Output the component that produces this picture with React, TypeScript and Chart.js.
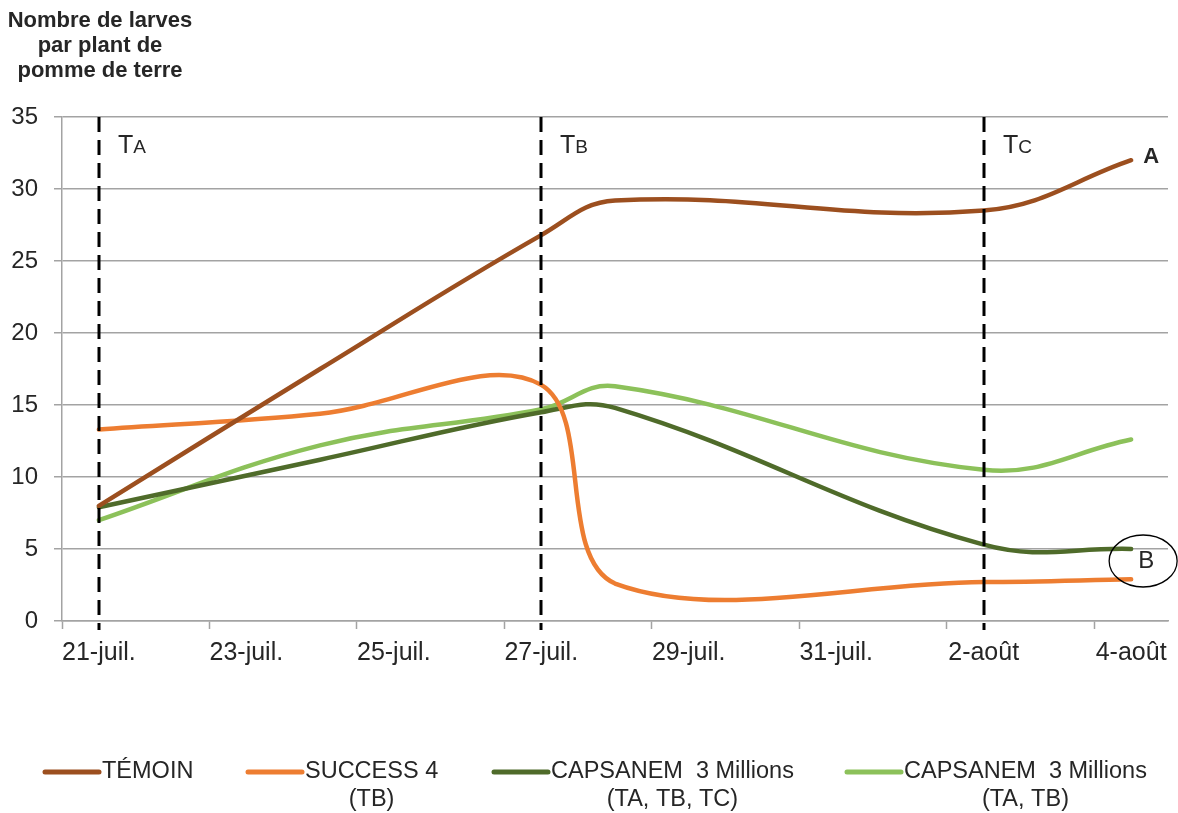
import React, { useEffect, useRef } from 'react';
import { Chart, registerables } from 'chart.js';

Chart.register(...registerables);

// ---- data ----
const dayLabels = [
  '21-juil.', '22-juil.', '23-juil.', '24-juil.', '25-juil.', '26-juil.', '27-juil.',
  '28-juil.', '29-juil.', '30-juil.', '31-juil.', '1-août', '2-août', '3-août', '4-août',
];
const sampleDays = [0, 3, 6, 7, 12, 14];
const temoin = [8.0, 17.5, 26.8, 29.2, 28.5, 32.0];
const success4 = [13.3, 14.4, 16.4, 2.6, 2.7, 2.9];
const capsanemABC = [7.9, 11.2, 14.5, 14.8, 5.3, 5.0];
const capsanemAB = [7.0, 12.2, 14.7, 16.3, 10.5, 12.6];

const seriesNames: string[][] = [
  ['TÉMOIN'],
  ['SUCCESS 4', '(TB)'],
  ['CAPSANEM  3 Millions', '(TA, TB, TC)'],
  ['CAPSANEM  3 Millions', '(TA, TB)'],
];
const seriesValues = [temoin, success4, capsanemABC, capsanemAB];
const seriesColors = ['#9C4F1F', '#ED7D31', '#4F6B2A', '#8CC15A'];
const seriesTension = [0.4, 0.36, 0.4, 0.4];

const treatmentDays = [0, 6, 12];
const treatmentLetters = ['A', 'B', 'C'];
const titleLines = ['Nombre de larves', 'par plant de', 'pomme de terre'];
const yMin = 0;
const yMax = 35;
const yStep = 5;

const FONT = '"Liberation Sans", Arial, sans-serif';
const GRID = '#A3A3A3';
const TEXT = '#262626';

const overlayPlugin = {
  id: 'overlay',
  afterDatasetsDraw(chart: any) {
    const { ctx, chartArea, scales } = chart;
    const x = scales.x;
    const y = scales.y;
    ctx.save();
    // treatment dashed lines + labels
    treatmentDays.forEach((d, i) => {
      const px = Math.round(x.getPixelForValue(d));
      ctx.strokeStyle = '#000';
      ctx.lineWidth = 3;
      ctx.setLineDash([15, 8]);
      ctx.beginPath();
      ctx.moveTo(px, chartArea.top);
      ctx.lineTo(px, chartArea.bottom + 9);
      ctx.stroke();
      ctx.setLineDash([]);
      ctx.fillStyle = TEXT;
      ctx.textAlign = 'left';
      ctx.textBaseline = 'alphabetic';
      ctx.font = `25px ${FONT}`;
      const lx = px + 19;
      const ly = chartArea.top + 36;
      ctx.fillText('T', lx, ly);
      const tw = ctx.measureText('T').width;
      ctx.font = `19px ${FONT}`;
      ctx.fillText(treatmentLetters[i], lx + tw, ly);
    });
    // "A" label
    const ax = x.getPixelForValue(sampleDays[sampleDays.length - 1]);
    const ay = y.getPixelForValue(temoin[temoin.length - 1]);
    ctx.font = `bold 22px ${FONT}`;
    ctx.fillStyle = TEXT;
    ctx.textAlign = 'left';
    ctx.textBaseline = 'middle';
    ctx.fillText('A', ax + 12, ay - 3);
    // "B" circled
    const bx = x.getPixelForValue(sampleDays[sampleDays.length - 1]);
    const by = y.getPixelForValue(capsanemABC[capsanemABC.length - 1]);
    ctx.strokeStyle = '#000';
    ctx.lineWidth = 1.3;
    ctx.beginPath();
    ctx.ellipse(bx + 12, by + 12, 34, 26, 0, 0, Math.PI * 2);
    ctx.stroke();
    ctx.font = `24px ${FONT}`;
    ctx.textAlign = 'center';
    ctx.fillText('B', bx + 15, by + 12);
    ctx.restore();
  },
  afterDraw(chart: any) {
    const { ctx } = chart;
    ctx.save();
    // title
    ctx.fillStyle = TEXT;
    ctx.font = `bold 22px ${FONT}`;
    ctx.textAlign = 'center';
    ctx.textBaseline = 'middle';
    titleLines.forEach((t, i) => ctx.fillText(t, 100, 21 + i * 25));
    // legend
    const starts = [43, 246, 492, 845];
    const lineLen = 56;
    const y1 = 772;
    const y2 = 800;
    seriesNames.forEach((lines, i) => {
      const sx = starts[i];
      ctx.strokeStyle = seriesColors[i];
      ctx.lineWidth = 5;
      ctx.lineCap = 'round';
      ctx.beginPath();
      ctx.moveTo(sx + 2, y1);
      ctx.lineTo(sx + lineLen, y1);
      ctx.stroke();
      ctx.font = `23.5px ${FONT}`;
      ctx.fillStyle = TEXT;
      ctx.textAlign = 'left';
      ctx.textBaseline = 'middle';
      const tx = sx + lineLen + 3;
      ctx.fillText(lines[0], tx, y1);
      const w = ctx.measureText(lines[0]).width;
      if (lines[1]) {
        ctx.textAlign = 'center';
        ctx.fillText(lines[1], tx + w / 2, y2);
      }
    });
    ctx.restore();
  },
};

export default function App() {
  const canvasRef = useRef<HTMLCanvasElement | null>(null);

  useEffect(() => {
    if (!canvasRef.current) return;
    const xTicks: number[] = [];
    for (let d = 0; d < dayLabels.length; d += 2) {
      xTicks.push(d - 0.5, d);
    }
    const chart = new Chart(canvasRef.current, {
      type: 'line',
      data: {
        datasets: seriesValues.map((vals, i) => ({
          label: seriesNames[i].join(' '),
          data: sampleDays.map((d, j) => ({ x: d, y: vals[j] })),
          borderColor: seriesColors[i],
          backgroundColor: seriesColors[i],
          borderWidth: 4.5,
          pointRadius: 0,
          tension: seriesTension[i],
          fill: false,
          borderCapStyle: 'round',
        })),
      },
      options: {
        animation: false,
        responsive: true,
        maintainAspectRatio: false,
        layout: { padding: { top: 117, right: 10, left: 0, bottom: 0 } },
        plugins: {
          legend: { display: false },
          tooltip: { enabled: false },
        },
        scales: {
          x: {
            type: 'linear',
            min: -0.5,
            max: dayLabels.length - 0.5,
            afterBuildTicks: (scale: any) => {
              scale.ticks = xTicks.map((v) => ({ value: v }));
            },
            afterFit: (scale: any) => {
              scale.height = 192;
            },
            ticks: {
              autoSkip: false,
              maxRotation: 0,
              minRotation: 0,
              padding: 9,
              color: TEXT,
              font: { family: FONT, size: 25 },
              callback: (v: any) => {
                const n = Number(v);
                return Number.isInteger(n) ? dayLabels[n] : '';
              },
            },
            grid: {
              drawOnChartArea: false,
              drawTicks: true,
              tickLength: 8,
              tickColor: (c: any) =>
                c.tick && !Number.isInteger(c.tick.value) ? GRID : 'rgba(0,0,0,0)',
              tickWidth: 1.5,
            },
            border: { display: true, color: GRID, width: 1.5 },
          },
          y: {
            min: yMin,
            max: yMax,
            afterFit: (scale: any) => {
              scale.width = 62;
            },
            ticks: {
              stepSize: yStep,
              padding: 16,
              color: TEXT,
              font: { family: FONT, size: 24 },
            },
            grid: {
              color: GRID,
              lineWidth: 1.5,
              tickLength: 8,
              tickColor: GRID,
            },
            border: { display: true, color: GRID, width: 1.5 },
          },
        },
      },
      plugins: [overlayPlugin],
    } as any);
    return () => chart.destroy();
  }, []);

  return (
    <div style={{ position: 'fixed', left: 0, top: 0, width: 1178, height: 813, background: '#fff' }}>
      <canvas ref={canvasRef} />
    </div>
  );
}
